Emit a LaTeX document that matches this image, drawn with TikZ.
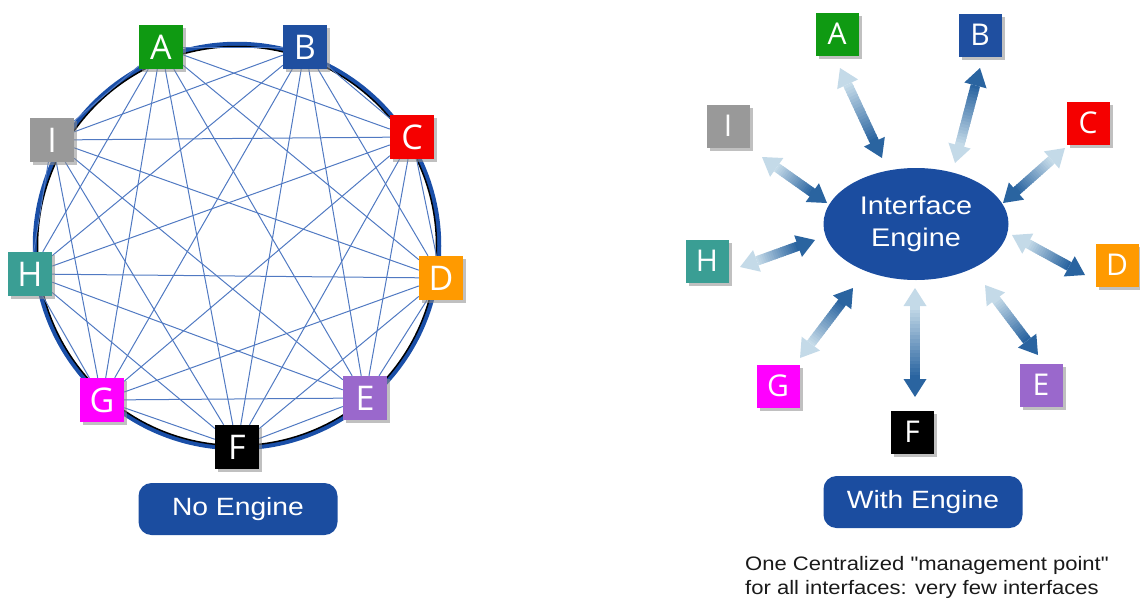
\documentclass[tikz,border=0pt]{standalone}
\usepackage{fontspec}
\usepackage{graphicx}
\setmainfont{Liberation Sans}
\newfontfamily\boxfont{Open Sans}
\usetikzlibrary{shadows,calc,shapes.geometric,backgrounds}

\definecolor{cA}{HTML}{0F9A12}
\definecolor{cB}{HTML}{1F4FA0}
\definecolor{cC}{HTML}{F50000}
\definecolor{cD}{HTML}{FF9A00}
\definecolor{cE}{HTML}{9A68CC}
\definecolor{cF}{HTML}{000000}
\definecolor{cG}{HTML}{FF00FF}
\definecolor{cH}{HTML}{3A9E94}
\definecolor{cI}{HTML}{999999}
\definecolor{engblue}{HTML}{1B4DA0}
\definecolor{meshblue}{HTML}{5079C2}
\definecolor{ringblue}{HTML}{1A4FA8}
\definecolor{adark}{HTML}{2A64A0}
\definecolor{alight}{HTML}{C4DAE8}
\definecolor{captext}{HTML}{1A1A1A}

% horizontally widened lettering
\newcommand{\stretchtxt}[1]{\scalebox{1.13}[1]{#1}}

% fat double-headed arrow with a colour gradient from #1 (colour #3) to #2 (colour #4)
\newcommand{\fatarrow}[4]{%
  \path ($(#1)!18pt!(#2)$) coordinate (h0) ($(#2)!18pt!(#1)$) coordinate (h1);
  \foreach \k in {0,...,19}{%
    \pgfmathtruncatemacro{\pct}{100*\k/19}%
    \draw[line width=9.5pt, color=#4!\pct!#3]
      ($(h0)!\k/20!(h1)$) -- ($(h0)!\k/20+0.07!(h1)$);
  }
  \fill[#3] (#1) -- ($(h0)!11.5pt!90:(#2)$) -- ($(h0)!11.5pt!-90:(#2)$) -- cycle;
  \fill[#4] (#2) -- ($(h1)!11.5pt!90:(#1)$) -- ($(h1)!11.5pt!-90:(#1)$) -- cycle;
}

\tikzset{
  boxshadow/.style={drop shadow={shadow xshift=3pt, shadow yshift=-3pt, fill=black!45, opacity=0.55}},
  lbox/.style={minimum size=44pt, inner sep=0pt, text=white, boxshadow,
               font=\boxfont\fontsize{34}{34}\selectfont},
  rbox/.style={minimum size=43pt, inner sep=0pt, text=white, boxshadow,
               font=\boxfont\fontsize{30}{30}\selectfont},
  mesh/.style={meshblue, line width=1pt},
  button/.style={fill=engblue, rounded corners=13pt, minimum width=199pt,
                 minimum height=52pt, inner sep=0pt, text=white,
                 font=\fontsize{25}{25}\selectfont},
}

\begin{document}
\begin{tikzpicture}[x=1pt,y=-1pt]
\useasboundingbox (0,0) rectangle (1140,600);

% ---------- fully meshed ring ----------
\node[lbox, fill=cA] (lA) at (161,47)  {A};
\node[lbox, fill=cB] (lB) at (305,47)  {B};
\node[lbox, fill=cC] (lC) at (412,137) {C};
\node[lbox, fill=cD] (lD) at (441,278) {D};
\node[lbox, fill=cE] (lE) at (365,398) {E};
\node[lbox, fill=cF] (lF) at (237,447) {F};
\node[lbox, fill=cG] (lG) at (102,400) {G};
\node[lbox, fill=cH] (lH) at (30,274)  {H};
\node[lbox, fill=cI] (lI) at (52,140)  {I};

\begin{scope}[on background layer]
  \draw[ringblue, line width=4.5pt] (237,246) circle [radius=202pt];
  \draw[black, line width=1.5pt] (237,246) circle [radius=199.5pt];
  \foreach \u/\rest in {A/{B,C,D,E,F,G,H,I}, B/{C,D,E,F,G,H,I}, C/{D,E,F,G,H,I},
                        D/{E,F,G,H,I}, E/{F,G,H,I}, F/{G,H,I}, G/{H,I}, H/{I}}{
    \foreach \v in \rest { \draw[mesh] (l\u) -- (l\v); }
  }
\end{scope}

\node[button] (nobtn) at (238,509) {\stretchtxt{No Engine}};

% ---------- hub with interface engine ----------
\node[ellipse, fill=engblue, minimum width=185pt, minimum height=112pt, inner sep=0pt,
      text=white, align=center, font=\fontsize{25.5}{31}\selectfont]
  (eng) at (916,224) {\stretchtxt{\begin{tabular}{@{}c@{}}Interface\\[1pt]Engine\end{tabular}}};

\node[rbox, fill=cA] (rA) at (837,34)  {A};
\node[rbox, fill=cB] (rB) at (980,35)  {B};
\node[rbox, fill=cC] (rC) at (1088,123) {C};
\node[rbox, fill=cD] (rD) at (1117,265) {D};
\node[rbox, fill=cE] (rE) at (1041,385) {E};
\node[rbox, fill=cF] (rF) at (912,432)  {F};
\node[rbox, fill=cG] (rG) at (778,386)  {G};
\node[rbox, fill=cH] (rH) at (707,261)  {H};
\node[rbox, fill=cI] (rI) at (728,126)  {I};

% arrow end points (box side / engine side)
\coordinate (aA) at (840,68);   \coordinate (eA) at (882,158);
\coordinate (aB) at (980,68);   \coordinate (eB) at (955,163);
\coordinate (aC) at (1065,148); \coordinate (eC) at (1003,203);
\coordinate (aD) at (1085,275); \coordinate (eD) at (1012,235);
\coordinate (aE) at (1038,355); \coordinate (eE) at (985,285);
\coordinate (aF) at (915,397);  \coordinate (eF) at (915,288);
\coordinate (aG) at (800,358);  \coordinate (eG) at (853,288);
\coordinate (aH) at (740,267);  \coordinate (eH) at (815,240);
\coordinate (aI) at (762,157);  \coordinate (eI) at (827,203);

\fatarrow{aA}{eA}{alight}{adark}
\fatarrow{aB}{eB}{adark}{alight}
\fatarrow{aC}{eC}{alight}{adark}
\fatarrow{aD}{eD}{adark}{alight}
\fatarrow{aE}{eE}{adark}{alight}
\fatarrow{aF}{eF}{adark}{alight}
\fatarrow{aG}{eG}{alight}{adark}
\fatarrow{aH}{eH}{alight}{adark}
\fatarrow{aI}{eI}{alight}{adark}

\node[button] (wbtn) at (923,502) {\stretchtxt{With Engine}};

\node[anchor=base west, inner sep=0pt, text=captext, font=\fontsize{19.5}{24}\selectfont]
  (cap1) at (745,570) {\stretchtxt{One Centralized \textquotedbl management point\textquotedbl}};
\node[anchor=base west, inner sep=0pt, text=captext, font=\fontsize{19.5}{24}\selectfont]
  (cap2) at (745,594) {\stretchtxt{for all interfaces: very few interfaces}};
\end{tikzpicture}
\end{document}
